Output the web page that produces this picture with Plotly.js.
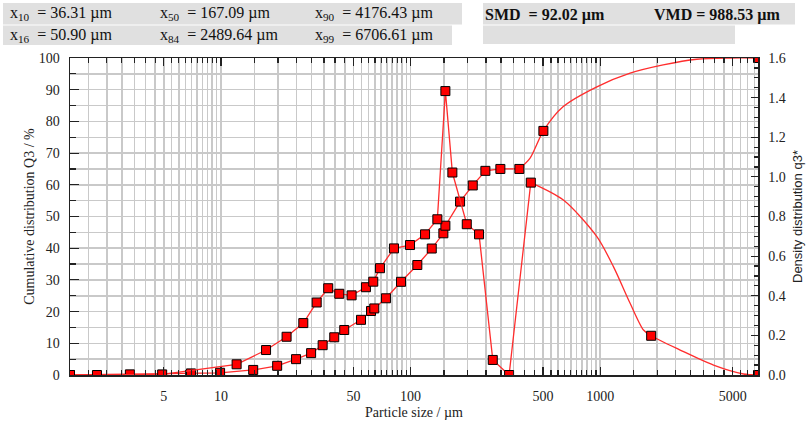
<!DOCTYPE html>
<html>
<head>
<meta charset="utf-8">
<script src="https://cdn.plot.ly/plotly-3.0.1.min.js"></script>
<style>html,body{margin:0;padding:0;background:#fff;}#chart{width:808px;height:421px;}</style>
</head>
<body>
<div id="chart"></div>
<script>
// Cumulative distribution Q3 (%), particle size in µm
const cumSize = [1.6, 3.31, 6.95, 9.9, 14.8, 19.8, 24.9, 29.9, 34.4, 39.6, 44.7, 54.8, 61.9, 64.4, 74.2, 89.1, 108.6, 129.4, 149, 152.7, 182.5, 212.9, 248.2, 297.7, 375, 427, 502, 637, 961, 1439, 2149, 3236, 4853, 6800];
const cumQ3   = [0, 0.2, 0.5, 0.7, 1.6, 2.9, 5.0, 6.9, 9.4, 11.9, 14.2, 17.4, 20.2, 21.0, 24.2, 29.4, 34.7, 39.9, 44.7, 47.1, 54.7, 59.8, 64.4, 65.0, 65.0, 68.4, 77.0, 84.6, 90.9, 95.2, 97.8, 99.6, 100, 100];
const cumMarked = [1,1,1,1,1,1,1,1,1,1,1,1,1,1,1,1,1,1,1,1,1,1,1,1,1,0,1,0,0,0,0,0,0,1];
const cumSmoothFrom = 24; // index where the drawn curve turns smooth

// Density distribution q3*
const densSize = [1.6, 2.22, 4.90, 12.1, 17.3, 22.2, 27.2, 32.0, 36.8, 42.1, 48.9, 58.2, 63.6, 69.0, 81.8, 99.4, 119.3, 138.5, 152.7, 166.2, 198, 229.8, 271.5, 331, 430.8, 640, 961, 1175, 1439, 1693, 1858, 2643, 3963, 5702, 6800];
const densQ3   = [0, 0, 0.003, 0.054, 0.126, 0.193, 0.262, 0.366, 0.438, 0.410, 0.402, 0.443, 0.471, 0.539, 0.639, 0.656, 0.710, 0.786, 1.433, 1.022, 0.761, 0.710, 0.076, 0, 0.971, 0.883, 0.698, 0.547, 0.362, 0.227, 0.198, 0.126, 0.050, 0.005, 0];
const densMarked = [1,1,1,1,1,1,1,1,1,1,1,1,1,1,1,1,1,1,1,1,1,1,1,1,1,0,0,0,0,0,1,0,0,0,1];
const densSmoothFrom = 24;

// Axis ticks
const xTickValues = [5, 10, 50, 100, 500, 1000, 5000];
const xTickLabels = ['5', '10', '50', '100', '500', '1000', '5000'];
const xRange = [1.6, 6800];
const gridSteps = [1, 1.5, 2, 2.5, 3, 3.5, 4, 4.5, 5, 5.5, 6, 6.5, 7, 7.5, 8, 8.5, 9, 9.5];
const gridDecades = [1, 10, 100, 1000];

// Header statistics
const statRow1 = ['x<sub>10</sub>  = 36.31 µm', 'x<sub>50</sub>  = 167.09 µm', 'x<sub>90</sub>  = 4176.43 µm'];
const statRow2 = ['x<sub>16</sub>  = 50.90 µm', 'x<sub>84</sub>  = 2489.64 µm', 'x<sub>99</sub>  = 6706.61 µm'];
const boldStats = ['SMD  = 92.02 µm', 'VMD = 988.53 µm'];

const gridVals = [];
gridDecades.forEach(d => gridSteps.forEach(s => { const v = s * d; if (v >= xRange[0] && v <= xRange[1]) gridVals.push(v); }));

const L = 70, R = 758, T = 58, B = 375;
const px = x => (x - L) / (R - L);
const py = y => (B - y) / (B - T);

const lineColor = 'rgb(255,45,45)';
const serif = 'Liberation Serif, Times New Roman, serif';
const gridColor = '#c9c9c9';

function sel(arr, flags) { return arr.filter((v, i) => flags[i]); }
const markerStyle = { symbol: 'square', size: 9, color: '#ff0000', line: { color: '#000', width: 1 } };

const traces = [
  { x: cumSize.slice(0, cumSmoothFrom + 1), y: cumQ3.slice(0, cumSmoothFrom + 1), type: 'scatter', mode: 'lines', yaxis: 'y', line: { color: lineColor, width: 1.3 } },
  { x: cumSize.slice(cumSmoothFrom), y: cumQ3.slice(cumSmoothFrom), type: 'scatter', mode: 'lines', yaxis: 'y', line: { color: lineColor, width: 1.3, shape: 'spline', smoothing: 0.8 } },
  { x: sel(cumSize, cumMarked), y: sel(cumQ3, cumMarked), type: 'scatter', mode: 'markers', yaxis: 'y', marker: markerStyle },
  { x: densSize.slice(0, densSmoothFrom + 1), y: densQ3.slice(0, densSmoothFrom + 1), type: 'scatter', mode: 'lines', yaxis: 'y2', line: { color: lineColor, width: 1.3 } },
  { x: densSize.slice(densSmoothFrom), y: densQ3.slice(densSmoothFrom), type: 'scatter', mode: 'lines', yaxis: 'y2', line: { color: lineColor, width: 1.3, shape: 'spline', smoothing: 0.8 } },
  { x: sel(densSize, densMarked), y: sel(densQ3, densMarked), type: 'scatter', mode: 'markers', yaxis: 'y2', marker: markerStyle }
];

const shapes = [];
const box = (x0, x1, y0, y1) => shapes.push({ type: 'rect', xref: 'paper', yref: 'paper', x0: px(x0), x1: px(x1), y0: py(y1), y1: py(y0), fillcolor: '#e0e0e0', line: { width: 0 }, layer: 'below' });
box(3, 462, 3, 24.5);
box(3, 452, 25.5, 45);
box(483, 795, 3, 24.5);
box(483, 735, 25.5, 44);

const annotations = [];
const colX = [8, 158, 313];
statRow1.forEach((t, i) => annotations.push({ text: t, x: px(colX[i]), y: py(14), xref: 'paper', yref: 'paper', xanchor: 'left', yanchor: 'middle', showarrow: false, font: { family: serif, size: 16, color: '#111' } }));
statRow2.forEach((t, i) => annotations.push({ text: t, x: px(colX[i]), y: py(35), xref: 'paper', yref: 'paper', xanchor: 'left', yanchor: 'middle', showarrow: false, font: { family: serif, size: 16, color: '#111' } }));
const boldX = [483, 652];
boldStats.forEach((t, i) => annotations.push({ text: '<b>' + t + '</b>', x: px(boldX[i]), y: py(15), xref: 'paper', yref: 'paper', xanchor: 'left', yanchor: 'middle', showarrow: false, font: { family: serif, size: 16, color: '#111' } }));

const layout = {
  width: 808, height: 421,
  margin: { l: L, r: 808 - R, t: T, b: 421 - B, pad: 0 },
  paper_bgcolor: '#fff', plot_bgcolor: '#fff',
  showlegend: false,
  font: { family: serif, size: 14, color: '#222' },
  xaxis: {
    type: 'log', range: [Math.log10(xRange[0]), Math.log10(xRange[1])],
    tickmode: 'array', tickvals: xTickValues, ticktext: xTickLabels,
    ticks: 'inside', ticklen: 8, tickwidth: 1.2, tickcolor: '#222',
    showline: true, linecolor: '#222', linewidth: 1.5, mirror: 'ticks',
    showgrid: true, gridcolor: gridColor, gridwidth: 1.5,
    minor: { tickmode: 'array', tickvals: gridVals, ticks: 'inside', ticklen: 5, tickcolor: '#222', showgrid: true, gridcolor: gridColor, gridwidth: 1.5 },
    ticklabelstandoff: 8,
    tickfont: { family: serif, size: 14, color: '#222' },
    title: { text: 'Particle size / µm', font: { family: serif, size: 14, color: '#222' }, standoff: 4 },
    zeroline: false
  },
  yaxis: {
    range: [0, 100], dtick: 10, tick0: 0,
    ticks: 'inside', ticklen: 9, tickwidth: 1.2, tickcolor: '#222',
    showline: true, linecolor: '#222', linewidth: 1.5,
    showgrid: true, gridcolor: gridColor, gridwidth: 1.5,
    minor: { dtick: 5, ticks: 'inside', ticklen: 6, tickcolor: '#222', showgrid: true, gridcolor: gridColor, gridwidth: 1.5 },
    ticklabelstandoff: 6,
    tickfont: { family: serif, size: 14, color: '#222' },
    title: { text: 'Cumulative distribution Q3 / %', font: { family: serif, size: 14, color: '#222' }, standoff: 1 },
    zeroline: false
  },
  yaxis2: {
    overlaying: 'y', side: 'right', range: [0, 1.6], dtick: 0.2, tick0: 0, tickformat: '.1f',
    ticks: 'inside', ticklen: 7, tickwidth: 1.2, tickcolor: '#222',
    showline: true, linecolor: '#222', linewidth: 1.5,
    showgrid: false,
    minor: { dtick: 0.05, ticks: 'inside', ticklen: 4, tickcolor: '#222', showgrid: false },
    ticklabelstandoff: 6,
    tickfont: { family: serif, size: 14, color: '#222' },
    title: { text: 'Density distribution q3*', font: { family: 'Liberation Sans, Arial, sans-serif', size: 13, color: '#222' }, standoff: 8 },
    zeroline: false
  },
  shapes: shapes,
  annotations: annotations
};

Plotly.newPlot('chart', traces, layout, { staticPlot: true, displayModeBar: false });
</script>
</body>
</html>
